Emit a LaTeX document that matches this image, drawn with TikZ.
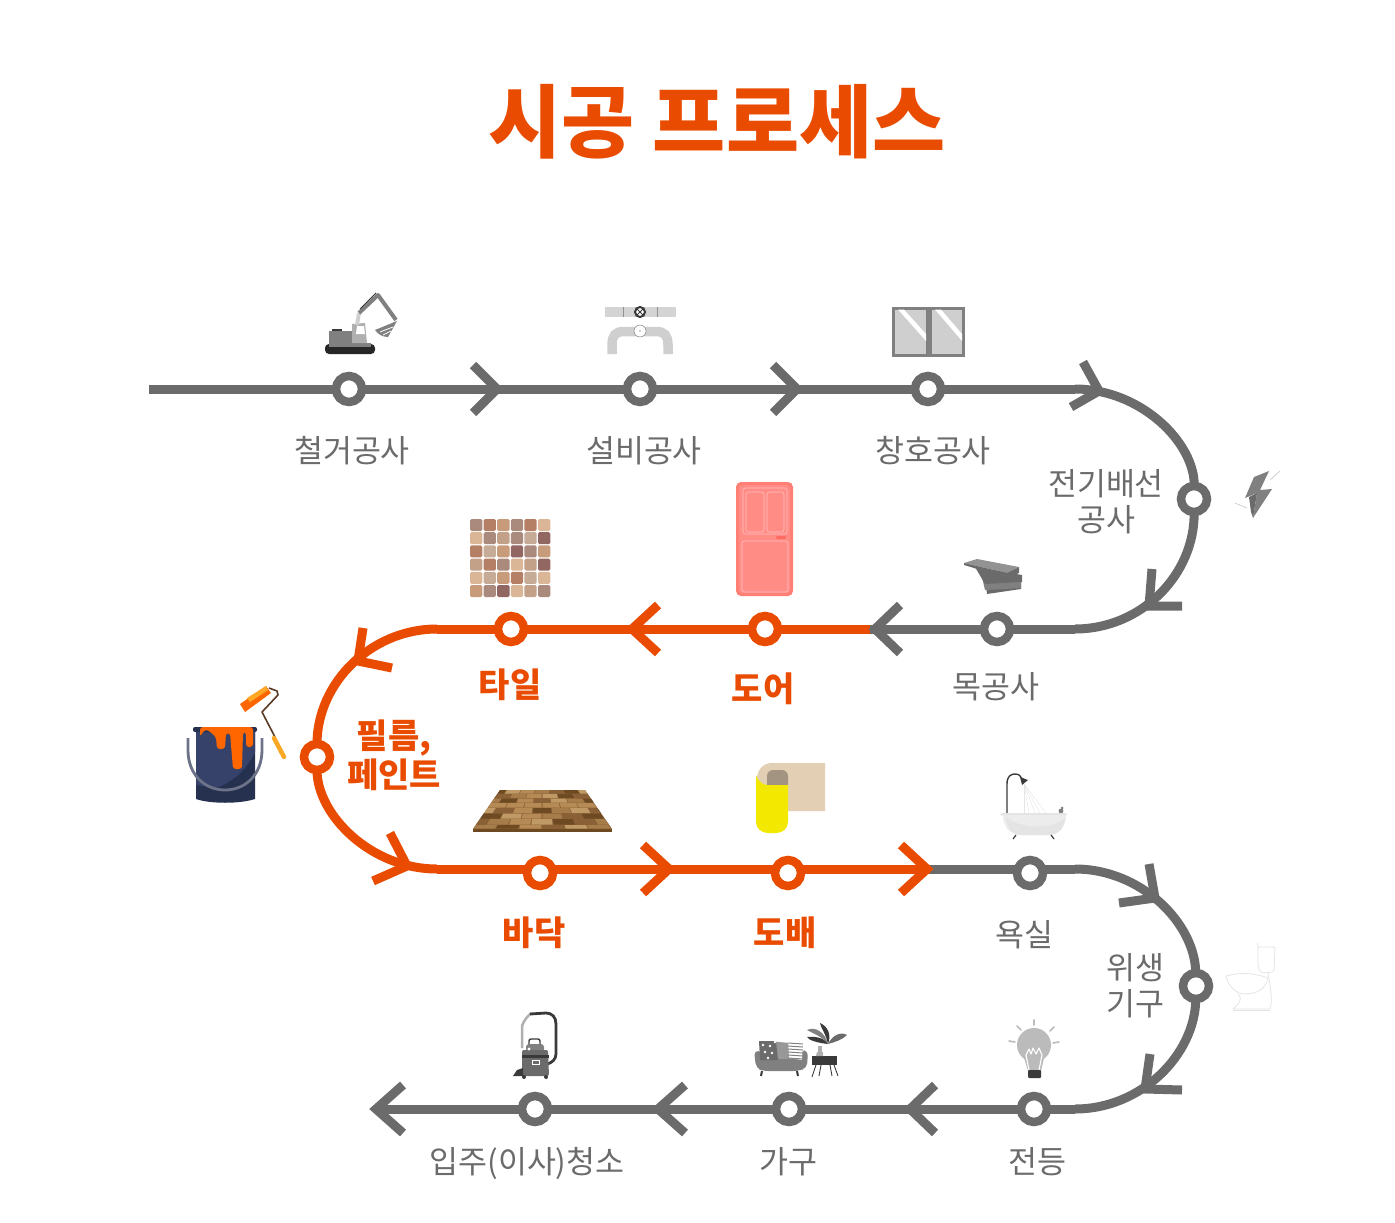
\documentclass[tikz,border=0pt]{standalone}
\usepackage{fontspec}
\setmainfont{Noto Sans CJK KR}
\usepackage{xcolor}
\usepackage{tikz}
\definecolor{track}{HTML}{6B6B6B}
\definecolor{accent}{HTML}{E94B00}
\definecolor{ink}{HTML}{3A3A3A}
\definecolor{midg}{HTML}{808080}
\definecolor{softg}{HTML}{CFCFCF}
\definecolor{paleg}{HTML}{E4E4E4}
\definecolor{navy}{HTML}{26304F}
\definecolor{navyl}{HTML}{36426A}
\definecolor{paint}{HTML}{FF6600}
\definecolor{amber}{HTML}{FFA726}
\definecolor{grip}{HTML}{F9A825}
\definecolor{wire}{HTML}{5A3A24}
\definecolor{pail}{HTML}{6C7389}
\definecolor{doora}{HTML}{FF7F74}
\definecolor{doorb}{HTML}{FF8D86}
\definecolor{doorc}{HTML}{FF6B63}
\definecolor{wallp}{HTML}{E3CFB4}
\definecolor{wallc}{HTML}{A39481}
\definecolor{wally}{HTML}{F2E800}
\definecolor{tilea}{HTML}{AB8A7E}
\definecolor{tileb}{HTML}{B57F66}
\definecolor{tilec}{HTML}{C89B7B}
\definecolor{tiled}{HTML}{DBB696}
\definecolor{tilee}{HTML}{C3A088}
\definecolor{tilef}{HTML}{926762}
\definecolor{tileg}{HTML}{C6AB96}
\definecolor{wood0}{HTML}{6E4A22}
\definecolor{wood1}{HTML}{A67C4A}
\definecolor{wood2}{HTML}{C09A66}
\definecolor{wood3}{HTML}{8A6136}
\definecolor{wood4}{HTML}{B58A55}
\tikzset{
  gline/.style={draw=track, line width=9pt},
  oline/.style={draw=accent, line width=9pt},
  gstop/.style={circle, draw=track, fill=white, line width=8.5pt, minimum size=26pt, inner sep=0pt, outer sep=0pt},
  ostop/.style={gstop, draw=accent},
  lbl/.style={text=track, font=\fontsize{31.5}{36}\selectfont, align=center, inner sep=0pt},
  olbl/.style={text=accent, font=\fontsize{34}{39}\selectfont\bfseries, align=center, inner sep=0pt}
}
\begin{document}
\begin{tikzpicture}[x=1pt, y=-1pt]
  \useasboundingbox (0,0) rectangle (1395,1223);

  \node[text=accent, font=\fontsize{79.5}{90}\selectfont\bfseries, inner sep=0pt] (title) at (717,122) {시공 프로세스};

  \coordinate (tail) at (149,389);
  \coordinate (bendA) at (1075,389);
  \coordinate (bendB) at (1075,629);
  \coordinate (turn) at (870,629);
  \coordinate (bendC) at (437,629);
  \coordinate (bendD) at (437,869);
  \coordinate (swap) at (930,869);
  \coordinate (bendE) at (1075,869);
  \coordinate (bendF) at (1075,1109);
  \coordinate (head) at (378,1109);

  \node[gstop] (demo) at (349,389) {};
  \node[gstop] (pipe) at (640,389) {};
  \node[gstop] (window) at (928,389) {};
  \node[gstop] (elec) at (1194,499) {};
  \node[gstop] (wood) at (997,629) {};
  \node[ostop] (door) at (765,629) {};
  \node[ostop] (tile) at (511,629) {};
  \node[ostop] (film) at (317,757) {};
  \node[ostop] (floor) at (540,873) {};
  \node[ostop] (paper) at (788,873) {};
  \node[gstop] (bath) at (1030,873) {};
  \node[gstop] (toilet) at (1196,986) {};
  \node[gstop] (lamp) at (1034,1109) {};
  \node[gstop] (sofa) at (789,1109) {};
  \node[gstop] (clean) at (535,1109) {};

  \draw[gline] (tail) -- (demo);
  \draw[gline] (demo) -- (pipe);
  \draw[gline] (pipe) -- (window);
  \draw[gline] (window) -- (bendA);
  \draw[gline] (bendA) .. controls (1141,389) and (1195,443) .. (elec);
  \draw[gline] (elec) .. controls (1195,575) and (1141,629) .. (bendB);
  \draw[gline] (bendB) -- (wood);
  \draw[gline] (wood) -- (turn);
  \draw[oline] (turn) -- (door);
  \draw[oline] (door) -- (tile);
  \draw[oline] (tile) -- (bendC);
  \draw[oline] (bendC) .. controls (371,629) and (317,683) .. (film);
  \draw[oline] (film) .. controls (317,815) and (371,869) .. (bendD);
  \draw[oline] (bendD) -- (floor.west |- bendD);
  \draw[oline] (floor.east |- bendD) -- (paper.west |- bendD);
  \draw[oline] (paper.east |- bendD) -- (swap);
  \draw[gline] (swap) -- (bath.west |- bendD);
  \draw[gline] (bath.east |- bendD) -- (bendE);
  \draw[gline] (bendE) .. controls (1141,869) and (1195,923) .. (toilet);
  \draw[gline] (toilet) .. controls (1195,1055) and (1141,1109) .. (bendF);
  \draw[gline] (bendF) -- (lamp);
  \draw[gline] (lamp) -- (sofa);
  \draw[gline] (sofa) -- (clean);
  \draw[gline] (clean) -- (head);

  \foreach \ax/\ay/\vx/\vy/\bx/\by in {473/365/497/389/473/413, 773/365/797/389/773/413,
    1083/362/1099/391/1071/407, 1152/569/1149/606/1182/606, 900/605/875/629/900/653,
    1149/864/1155/898/1119/903, 1150/1054/1145/1089/1182/1090, 935/1085/910/1109/935/1133,
    685/1085/658/1109/685/1133, 403/1085/376/1109/403/1133}
    \draw[gline] (\ax,\ay) -- (\vx,\vy) -- (\bx,\by);
  \foreach \ax/\ay/\vx/\vy/\bx/\by in {658/605/632/629/658/653, 363/628/358/661/392/668,
    390/833/407/866/373/881, 643/845/669/869/643/893, 901/845/927/869/901/893}
    \draw[oline] (\ax,\ay) -- (\vx,\vy) -- (\bx,\by);

  \node[lbl] (demolbl) at (352,451) {철거공사};
  \node[lbl] (pipelbl) at (644,451) {설비공사};
  \node[lbl] (windowlbl) at (933,451) {창호공사};
  \node[lbl] (eleclbl) at (1106,502) {전기배선\\공사};
  \node[lbl] (woodlbl) at (996,687) {목공사};
  \node[olbl] (tilelbl) at (510,685) {타일};
  \node[olbl] (doorlbl) at (763,689) {도어};
  \node[olbl] (filmlbl) at (394,755) {필름,\\페인트};
  \node[olbl] (floorlbl) at (534,933) {바닥};
  \node[olbl] (paperlbl) at (785,933) {도배};
  \node[lbl] (bathlbl) at (1024,935) {욕실};
  \node[lbl] (toiletlbl) at (1135,986) {위생\\기구};
  \node[lbl] (lamplbl) at (1037,1162) {전등};
  \node[lbl] (sofalbl) at (788,1162) {가구};
  \node[lbl] (cleanlbl) at (527,1163) {입주(이사)청소};

  \fill[black!85, rounded corners=4pt] (325,344) rectangle (375,354);
  \fill[midg] (329,343) rectangle (371,347);
  \fill[midg] (329,331) rectangle (356,344);
  \fill[ink] (332,329) rectangle (342,331);
  \fill[softg!60!midg] (352,324) -- (365,323) -- (367,343) -- (352,343) -- cycle;
  \fill[white] (357,326) -- (364,326) -- (365,334) -- (356,334) -- cycle;
  \draw[softg, line width=4pt] (357,325) -- (359,313);
  \draw[midg, line width=4pt, line join=round] (359,313) -- (378,295) -- (396,320);
  \draw[ink, line width=1pt] (360,309) -- (376,293);
  \fill[midg] (375,330) -- (397,321) -- (388,337) .. controls (382,337) and (378,334) .. cycle;
  \draw[white, line width=.8pt] (380,332) -- (393,327);
  \draw[white, line width=.8pt] (383,335) -- (391,331);

  \fill[softg!90] (605,307) rectangle (676,317);
  \draw[softg!70!black, line width=.6pt] (623,307) -- (623,317);
  \draw[softg!70!black, line width=.6pt] (657,307) -- (657,317);
  \draw[softg, line width=9.5pt] (612,354) -- (612,345) .. controls (612,336) and (615,331.5) .. (624,331.5) -- (656,331.5) .. controls (665,331.5) and (668,336) .. (668,345) -- (668,354);
  \node[circle, draw=ink, line width=2pt, fill=white, minimum size=10pt, inner sep=0pt] (valve) at (640,312) {};
  \draw[ink, line width=1pt] (637,309) -- (643,315);
  \draw[ink, line width=1pt] (643,309) -- (637,315);
  \node[circle, draw=midg, line width=.5pt, fill=white, minimum size=12pt, inner sep=0pt] (gauge) at (640,331) {};
  \fill[ink] (640,331) circle (.6pt);

  \foreach \wx/\wy in {892/927, 929/963} {
    \draw[midg, line width=3pt, fill=softg] (\wx+1,308) rectangle (\wy,355);
    \fill[white] (\wx+6,309.5) -- (\wx+12,309.5) -- (\wy-1,334) -- (\wy-1,341) -- cycle;
  }

  \fill[midg] (1269,471) -- (1254,477) -- (1245,498) -- (1257,493) -- (1253,518) -- (1272,489) -- (1260,490) -- cycle;
  \fill[track] (1249,497) -- (1257,493) -- (1253,518) -- (1251,512) -- cycle;
  \draw[softg, line width=.8pt] (1270,480) -- (1280,471);
  \draw[softg, line width=.8pt] (1235,503) -- (1247,508);

  \fill[track] (985,579) -- (1021,576) -- (1021,589) -- (987,594) -- cycle;
  \fill[midg] (982,577) -- (1021,582) -- (1021,588) -- (985,590) -- cycle;
  \fill[track] (975,567) -- (1022,575) -- (1022,582) -- (985,584) -- cycle;
  \fill[midg!85] (964,563) -- (977,559) -- (1019,567) -- (1007,573) -- cycle;
  \fill[track] (964,563) -- (1007,573) -- (1019,567) -- (1019,573) -- (1007,578) -- (964,565) -- cycle;

  \foreach \row [count=\ty from 0] in {{a,b,c,a,b,d}, {d,a,e,a,g,f}, {b,g,c,f,a,c}, {e,b,a,d,e,f}, {d,g,c,b,g,d}, {c,a,f,d,e,a}}
    \foreach \tc [count=\tx from 0] in \row
      \fill[tile\tc, rounded corners=1.5pt] (470+13.6*\tx,519+13.2*\ty) rectangle ++(12.3,12);

  \fill[doora, rounded corners=5pt] (736,482) rectangle (793,596);
  \fill[doorb, rounded corners=3pt] (739,485) rectangle (790,593);
  \begin{scope}[draw=white!75!red, line width=.6pt, rounded corners=2.5pt]
    \draw (743,488) rectangle (787,534);
    \draw (746,492) rectangle (764,532);
    \draw (767,492) rectangle (784,532);
    \draw (742,541) rectangle (788,592);
  \end{scope}
  \fill[doorc, rounded corners=1pt] (776,536) rectangle (786,539);

  \fill[navy] (196,731) -- (255,731) -- (255,799) .. controls (240,804) and (210,804) .. (196,799) -- cycle;
  \fill[navyl] (196,731) -- (255,731) -- (255,752) .. controls (246,772) and (230,783) .. (216,788) -- (196,785) -- cycle;
  \fill[navy, rounded corners=2pt] (193,727) rectangle (257,732);
  \fill[paint, rounded corners=3pt] (200,727) -- (253,727) -- (253,747) -- (246,747) -- (246,732) -- (243,732) -- (242,769) -- (233,769) -- (230,733) -- (226,733) -- (225,749) -- (217,749) -- (216,737) -- (208,730) -- (204,730) -- (200,737) -- cycle;
  \draw[pail, line width=2.8pt] (188,738) -- (188,750) .. controls (188,775) and (205,790) .. (225,790) .. controls (245,790) and (262,775) .. (262,750) -- (262,738);
  \fill[paint] (240,704) -- (266,686) -- (271,693) -- (245,712) -- cycle;
  \fill[amber] (247,698) -- (266,686) -- (268,690) -- (250,702) -- cycle;
  \draw[wire, line width=1.6pt, line join=round] (269,688) -- (277,691) -- (278,695) -- (262,712) -- (275,737);
  \draw[grip, line width=4.5pt, line cap=round] (274,738) -- (284,757);

  \fill[wood3] (500,790) -- (585,790) -- (612,829) -- (473,829) -- cycle;
  \foreach \rw/\ya/\yb in {0/790/794, 1/794/798.5, 2/798.5/803, 3/803/808, 4/808/813.5, 5/813.5/819, 6/819/825, 7/825/829}
    \foreach \cl in {0,...,7} {
      \pgfmathsetmacro\ua{(\cl+mod(\rw,2)*.5-.5)/6}
      \pgfmathsetmacro\ub{(\cl+mod(\rw,2)*.5+.45)/6}
      \pgfmathsetmacro\la{500-27*(\ya-790)/39}
      \pgfmathsetmacro\ra{85+54*(\ya-790)/39}
      \pgfmathsetmacro\lb{500-27*(\yb-790)/39}
      \pgfmathsetmacro\rb{85+54*(\yb-790)/39}
      \pgfmathsetmacro\ush{int(mod(\rw*3+\cl*2+\rw*\cl,5))}
      \begin{scope}
        \clip (500,790) -- (585,790) -- (612,829) -- (473,829) -- cycle;
        \fill[wood\ush] (\la+\ua*\ra,\ya) -- (\la+\ub*\ra,\ya) -- (\lb+\ub*\rb,\yb-.5) -- (\lb+\ua*\rb,\yb-.5) -- cycle;
      \end{scope}
    }
  \fill[wood0] (473,829) rectangle (612,832);

  \fill[wallp] (825,763) -- (825,811) -- (785,811) -- (785,785) -- (757,785) -- (757,779) .. controls (757,770) and (763,763) .. (772,763) -- cycle;
  \fill[wallc, rounded corners=6pt] (767,770) rectangle (788,790);
  \fill[wally] (756,775) .. controls (758,782) and (764,785) .. (767,785) -- (788,785) -- (788,822) .. controls (788,829) and (782,833) .. (776,833) -- (768,833) .. controls (761,833) and (756,828) .. (756,822) -- cycle;

  \draw[ink, line width=1.4pt] (1007,814) -- (1007,784) .. controls (1007,776) and (1011,774) .. (1015,774) .. controls (1019,774) and (1021,776) .. (1022,779);
  \fill[ink] (1020,777) -- (1028,780) -- (1022,785) -- cycle;
  \foreach \ex in {1024, 1029, 1035, 1040, 1046}
    \draw[paleg, line width=.4pt] (1024,784) -- (\ex,813);
  \fill[midg] (1061,811) circle (2.4pt);
  \fill[midg] (1062,808) circle (1.5pt);
  \fill[paleg, rounded corners=2pt] (1001,813) rectangle (1067,816);
  \fill[paleg!70] (1003,815) -- (1066,815) .. controls (1066,828) and (1058,835) .. (1048,835) -- (1021,835) .. controls (1011,835) and (1003,828) .. (1003,815);
  \fill[paleg] (1006,816) .. controls (1014,827) and (1050,832) .. (1065,818) .. controls (1064,830) and (1056,835) .. (1048,835) -- (1021,835) .. controls (1012,835) and (1006,826) .. (1006,816);
  \draw[ink, line width=1.2pt] (1016,835) -- (1013,839);
  \draw[ink, line width=1.2pt] (1051,835) -- (1054,839);

  \begin{scope}[draw=paleg, line width=.8pt, fill=white]
    \draw[rounded corners=2pt] (1258,947) -- (1275,947) -- (1274,972) -- (1261,973) -- (1258,967) -- cycle;
    \draw (1258,947) -- (1257,943);
    \draw (1238,994) .. controls (1243,998) and (1240,1003) .. (1233,1009) -- (1270,1009) .. controls (1273,1000) and (1270,985) .. (1268,973);
    \draw (1226,976) .. controls (1240,972) and (1255,973) .. (1268,978) .. controls (1266,990) and (1255,994) .. (1245,994) .. controls (1235,994) and (1228,985) .. (1226,976) -- cycle;
    \draw (1233,1010) -- (1270,1010);
  \end{scope}

  \fill[softg!75!midg] (1034,1045) circle (17pt);
  \fill[softg!75!midg] (1024,1058) -- (1044,1058) -- (1041,1071) -- (1028,1071) -- cycle;
  \draw[white, line width=1.1pt, line join=round] (1029,1070) -- (1026,1055) -- (1029,1049) -- (1031,1054) -- (1033,1048) -- (1036,1054) -- (1039,1048) -- (1042,1055) -- (1039,1070);
  \fill[ink, rounded corners=1pt] (1028,1070) rectangle (1041,1078);
  \draw[softg!75!midg, line width=1.6pt, line cap=round] (1034,1020) -- (1034,1025);
  \draw[softg!75!midg, line width=1.6pt, line cap=round] (1017,1026) -- (1021,1030);
  \draw[softg!75!midg, line width=1.6pt, line cap=round] (1054,1027) -- (1050,1031);
  \draw[softg!75!midg, line width=1.6pt, line cap=round] (1009,1041) -- (1015,1042);
  \draw[softg!75!midg, line width=1.6pt, line cap=round] (1059,1042) -- (1053,1043);

  \draw[softg!60!midg, line width=2.5pt] (522,1048) -- (522,1026) .. controls (524,1020) and (528,1016) .. (531,1013);
  \draw[ink, line width=2.8pt] (530,1014) -- (546,1013) .. controls (552,1013) and (556,1017) .. (556,1024) -- (556,1054) .. controls (556,1059) and (552,1063) .. (547,1064);
  \fill[midg, rounded corners=3pt] (526,1044) rectangle (544,1052);
  \draw[ink, line width=1.4pt, rounded corners=2pt] (529,1044) -- (529,1039) -- (540,1039) -- (540,1044);
  \fill[track, rounded corners=2pt] (522,1050) -- (548,1050) -- (549,1076) -- (522,1076) -- cycle;
  \fill[ink] (522,1055) rectangle (549,1058);
  \draw[white, line width=.8pt] (532,1060) rectangle (539,1064);
  \fill[white] (529,1049) circle (1.6pt);
  \fill[ink] (513,1076) -- (517,1070) -- (523,1068) -- (523,1076) -- cycle;
  \fill[ink] (524,1077) circle (2pt);
  \fill[ink] (546,1077) circle (2pt);

  \fill[midg, rounded corners=5pt] (754,1050) -- (763,1052) -- (763,1059) -- (800,1059) -- (800,1051) -- (808,1050) -- (807,1068) -- (798,1071) -- (763,1071) -- (756,1068) -- cycle;
  \fill[midg!70!softg] (767,1041) -- (790,1043) -- (797,1059) -- (764,1059) -- cycle;
  \fill[track] (759,1041) -- (776,1041) -- (778,1060) -- (760,1060) -- cycle;
  \foreach \px/\py in {763/1045, 770/1046, 765/1052, 772/1053, 768/1058, 775/1042}
    \fill[white] (\px,\py) circle (1.4pt);
  \fill[white] (788,1040) -- (803,1041) -- (802,1060) -- (789,1058) -- cycle;
  \foreach \ln in {1043,1046,...,1058}
    \draw[midg, line width=1pt] (788,\ln) -- (803,\ln+1);
  \draw[ink, line width=2pt] (762,1071) -- (761,1076);
  \draw[ink, line width=2pt] (797,1071) -- (798,1076);
  \fill[ink] (812,1056) rectangle (837,1065);
  \fill[softg!60!midg] (817,1052) -- (823,1052) -- (823,1056) -- (816,1056) -- cycle;
  \fill[softg!60!midg] (818,1046) rectangle (822,1052);
  \draw[ink, line width=.9pt] (816,1065) -- (812,1077);
  \draw[ink, line width=.9pt] (821,1065) -- (819,1076);
  \draw[ink, line width=.9pt] (830,1065) -- (832,1076);
  \draw[ink, line width=.9pt] (834,1065) -- (838,1076);
  \fill[ink] (828,1044) .. controls (818,1043) and (808,1040) .. (807,1037) .. controls (815,1036) and (825,1038) .. (828,1044);
  \fill[midg] (828,1044) .. controls (822,1036) and (810,1032) .. (807,1030) .. controls (815,1026) and (825,1032) .. (828,1044);
  \fill[ink] (828,1044) .. controls (826,1034) and (820,1026) .. (820,1023) .. controls (827,1026) and (832,1034) .. (828,1044);
  \fill[track] (828,1044) .. controls (832,1036) and (840,1031) .. (847,1035) .. controls (842,1040) and (835,1042) .. (828,1044);
\end{tikzpicture}
\end{document}
